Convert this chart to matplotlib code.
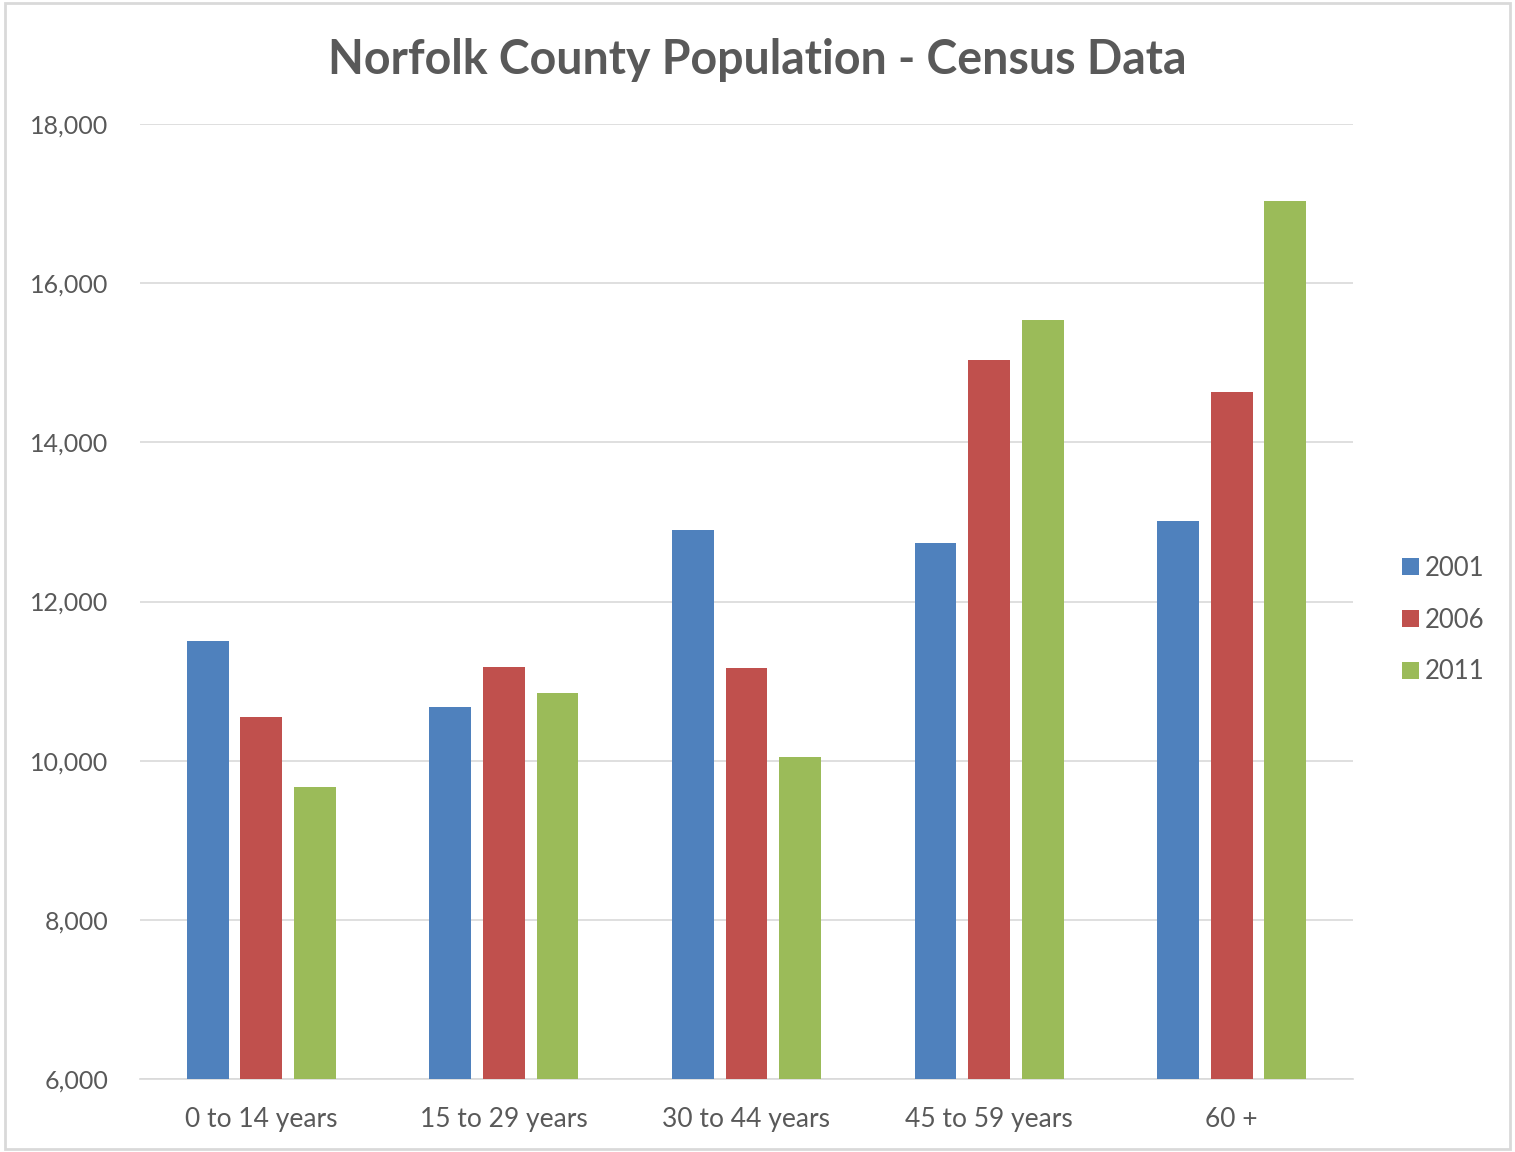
import numpy as np
import matplotlib.pyplot as plt
from matplotlib.patches import Rectangle

categories = ['0 to 14 years', '15 to 29 years', '30 to 44 years',
              '45 to 59 years', '60 +']
years = ['2001', '2006', '2011']
pop_2001 = [11500, 10670, 12900, 12740, 13010]
pop_2006 = [10550, 11180, 11160, 15030, 14630]
pop_2011 = [9670, 10850, 10050, 15540, 17030]
colors = ['#4F81BD', '#C0504D', '#9BBB59']

plt.rcParams['font.family'] = ['Lato', 'DejaVu Sans']
text_col = '#595959'

fig = plt.figure(figsize=(15.15, 11.52), dpi=100)
fig.patches.append(Rectangle((0.003, 0.003), 0.994, 0.994, transform=fig.transFigure,
                             fill=False, edgecolor='#d9d9d9', linewidth=2))
ax = fig.add_axes([140 / 1515, 1 - 1079 / 1152, 1213 / 1515, 955 / 1152])

x = np.arange(len(categories))
step = 0.221
width = 0.172
for i, (vals, yr) in enumerate(zip([pop_2001, pop_2006, pop_2011], years)):
    ax.bar(x + (i - 1) * step, np.array(vals) - 6000, width, bottom=6000,
           color=colors[i], label=yr, zorder=3)

ax.set_xlim(-0.5, len(categories) - 0.5)
ax.set_ylim(6000, 18000)
ax.set_yticks(np.arange(6000, 18001, 2000))
ax.set_yticklabels([f'{v:,}' for v in range(6000, 18001, 2000)])
ax.set_xticks(x)
ax.set_xticklabels(categories)
ax.grid(axis='y', color='#d9d9d9', linewidth=1.2, zorder=0)
for s in ['top', 'right', 'left']:
    ax.spines[s].set_visible(False)
ax.spines['bottom'].set_color('#d9d9d9')
ax.spines['bottom'].set_linewidth(1.2)
ax.tick_params(axis='y', length=0, labelsize=18, labelcolor=text_col, pad=23)
ax.tick_params(axis='x', length=0, labelsize=19, labelcolor=text_col, pad=20)

fig.text(0.5, 1 - 60 / 1152, 'Norfolk County Population - Census Data',
         ha='center', va='center', fontsize=33.5, fontweight='bold', color=text_col)

leg = fig.legend(loc='center left', bbox_to_anchor=(1379 / 1515, 1 - 620 / 1152),
                 frameon=False, fontsize=18.5, handlelength=0.65, handleheight=0.65,
                 handletextpad=0.25, labelspacing=1.05)
for t in leg.get_texts():
    t.set_color(text_col)

fig.savefig('out.png', dpi=100)
